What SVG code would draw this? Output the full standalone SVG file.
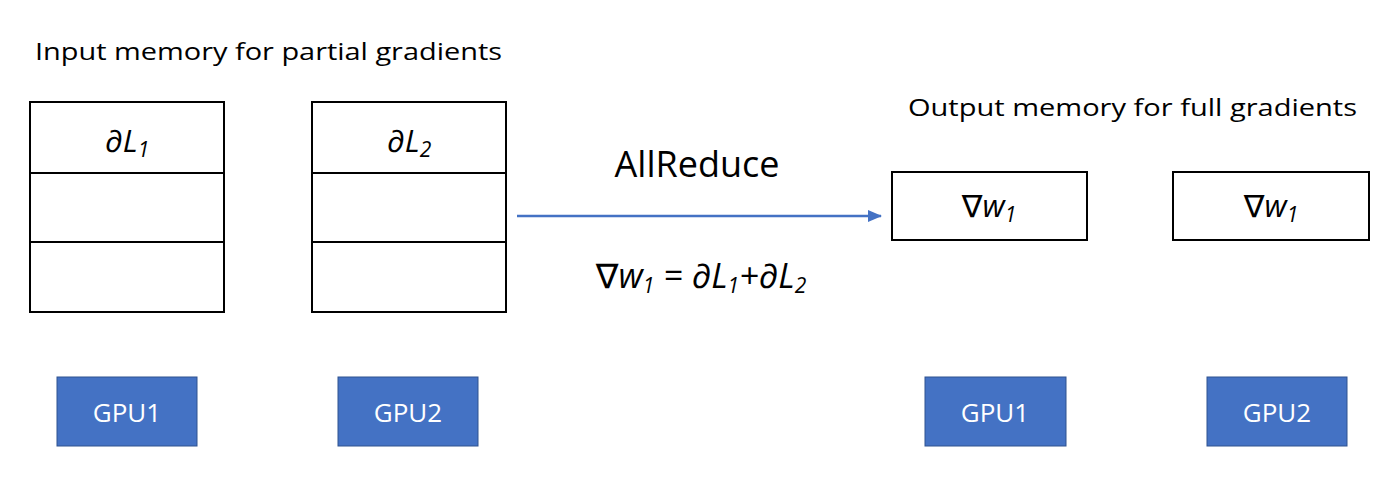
<svg xmlns="http://www.w3.org/2000/svg" width="1400" height="484" viewBox="0 0 1400 484">
<style>
.cell{fill:#fff;stroke:#000;stroke-width:2}
.gpu{fill:#4472C4;stroke:#2F528F;stroke-width:1}
.gt{font-family:"Open Sans","Liberation Sans",sans-serif;font-size:26px;fill:#fff;text-anchor:middle}
.title{font-family:"Open Sans","Liberation Sans",sans-serif;font-size:23px;fill:#000}
.math{font-family:"Open Sans","DejaVu Sans",sans-serif;font-style:italic;font-size:31px;fill:#000;text-anchor:middle}
.big{font-size:34px}
.sub{font-size:21px}
.lbl{font-family:"Open Sans","Liberation Sans",sans-serif;font-size:36px;fill:#000;text-anchor:middle}
</style>
<defs>
<marker id="ah" markerWidth="14" markerHeight="12" refX="13" refY="6" orient="auto" markerUnits="userSpaceOnUse" viewBox="0 0 14 12">
<path d="M0,0 L14,6 L0,12 z" fill="#4472C4"/>
</marker>
</defs>
<rect width="1400" height="484" fill="#fff"/>
<text class="title" x="35" y="60" textLength="467" lengthAdjust="spacingAndGlyphs">Input memory for partial gradients</text>
<text class="title" x="908" y="116" textLength="449" lengthAdjust="spacingAndGlyphs">Output memory for full gradients</text>

<g id="input1">
<rect class="cell" x="30" y="102" width="194" height="71"/>
<rect class="cell" x="30" y="173" width="194" height="69"/>
<rect class="cell" x="30" y="242" width="194" height="70"/>
<text class="math" x="127" y="152">∂L<tspan class="sub" dy="5">1</tspan></text>
</g>
<g id="input2">
<rect class="cell" x="312" y="102" width="194" height="71"/>
<rect class="cell" x="312" y="173" width="194" height="69"/>
<rect class="cell" x="312" y="242" width="194" height="70"/>
<text class="math" x="409" y="152">∂L<tspan class="sub" dy="5">2</tspan></text>
</g>

<g id="connectors">
<line x1="517" y1="216" x2="881" y2="216" stroke="#4472C4" stroke-width="2.5" marker-end="url(#ah)"/>
</g>
<g id="allreduce-label">
<text class="lbl" x="697" y="177">AllReduce</text>
<text class="math big" x="701" y="288">∇w<tspan class="sub" dy="5">1</tspan><tspan dy="-5"> = ∂L</tspan><tspan class="sub" dy="5">1</tspan><tspan dy="-5">+∂L</tspan><tspan class="sub" dy="5">2</tspan></text>
</g>

<g id="output1">
<rect class="cell" x="892" y="172" width="195" height="68"/>
<text class="math" x="989" y="217">∇w<tspan class="sub" dy="5">1</tspan></text>
</g>
<g id="output2">
<rect class="cell" x="1173" y="172" width="196" height="68"/>
<text class="math" x="1271" y="217">∇w<tspan class="sub" dy="5">1</tspan></text>
</g>

<g id="gpu1-in"><rect class="gpu" x="57" y="377" width="140" height="69"/><text class="gt" x="127" y="422">GPU1</text></g>
<g id="gpu2-in"><rect class="gpu" x="338" y="377" width="140" height="69"/><text class="gt" x="408" y="422">GPU2</text></g>
<g id="gpu1-out"><rect class="gpu" x="925" y="377" width="141" height="69"/><text class="gt" x="995" y="422">GPU1</text></g>
<g id="gpu2-out"><rect class="gpu" x="1207" y="377" width="140" height="69"/><text class="gt" x="1277" y="422">GPU2</text></g>
</svg>
